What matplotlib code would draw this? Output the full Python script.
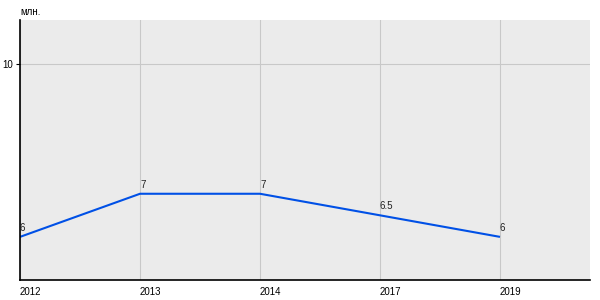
import matplotlib
matplotlib.use('Agg')
import matplotlib.pyplot as plt

years = ['2012', '2013', '2014', '2017', '2019']
values = [6, 7, 7, 6.5, 6]
labels = ['6', '7', '7', '6.5', '6']

plt.rcParams['font.family'] = ['Liberation Sans', 'DejaVu Sans']

fig = plt.figure(figsize=(6, 3), dpi=100)
ax = fig.add_axes([20 / 600, 20 / 300, 570 / 600, 260 / 300])
ax.set_facecolor('#ebebeb')

x = list(range(len(years)))
ax.plot(x, values, color='#0050e6', lw=1.5, solid_capstyle='butt')
for xi, v, lab in zip(x, values, labels):
    ax.annotate(lab, (xi, v), xytext=(0, 3), textcoords='offset points',
                fontsize=7, ha='left', va='bottom', color='#222222')

ax.set_xlim(0, 4.75)
ax.set_ylim(5, 11.03)
ax.set_xticks(x)
ax.set_xticklabels(years)
ax.set_yticks([10])
ax.grid(True, color='#c8c8c8', lw=0.8)
ax.set_axisbelow(True)
for s in ['top', 'right']:
    ax.spines[s].set_visible(False)
for s in ['left', 'bottom']:
    ax.spines[s].set_linewidth(1.2)
ax.tick_params(axis='x', length=0, labelsize=7, pad=5)
ax.tick_params(axis='y', length=3, labelsize=7, pad=2)
for t in ax.get_xticklabels():
    t.set_ha('left')
fig.text(20 / 600, 1 - 12 / 300, 'млн.', fontsize=7, ha='left', va='center')

fig.savefig('out.png', dpi=100)
